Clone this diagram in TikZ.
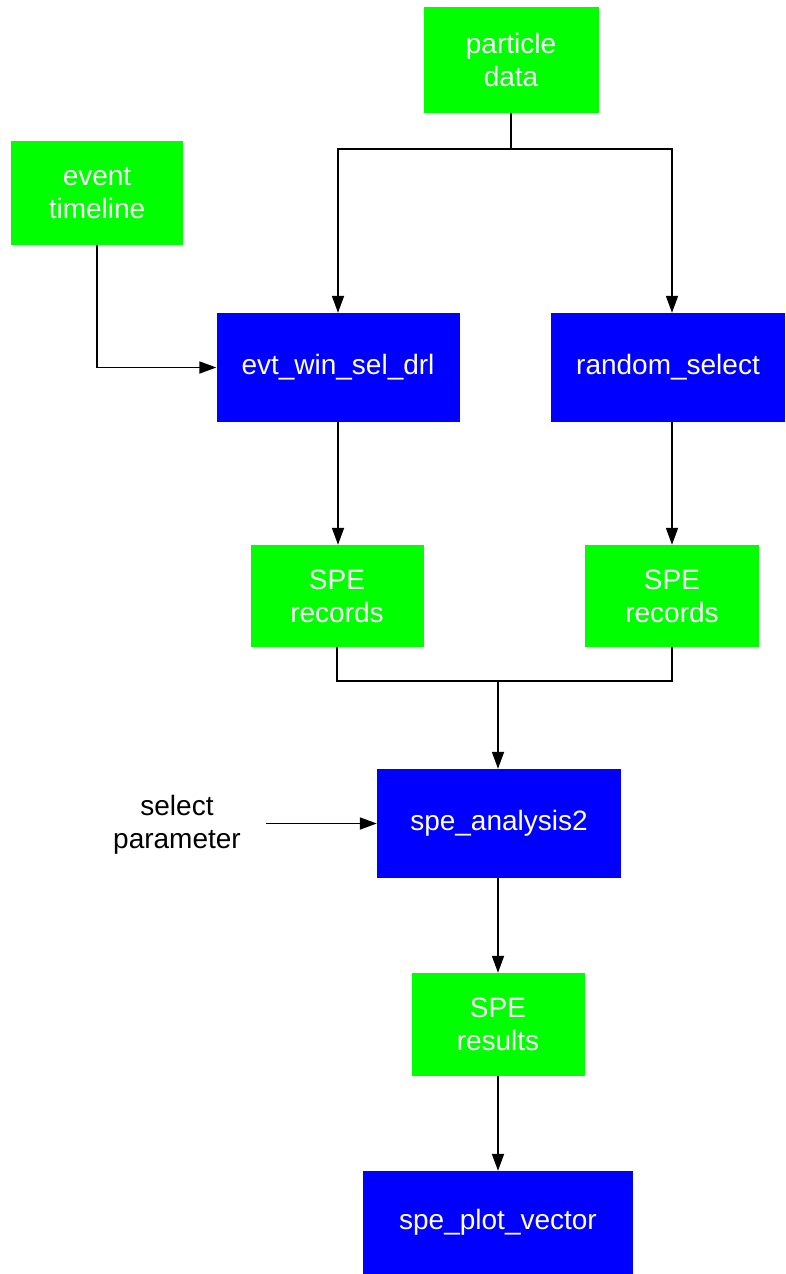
\documentclass[tikz,border=0pt]{standalone}
\usepackage{fontspec}
\setmainfont{Liberation Sans}
\usepackage{tikz}
\usetikzlibrary{arrows.meta, positioning}
\definecolor{datagreen}{RGB}{0,255,0}
\definecolor{progblue}{RGB}{0,0,255}
\tikzstyle{data} = [rectangle, minimum width=173pt, minimum height=104pt, inner sep=0pt, align=center, fill=datagreen, text=white]
\tikzstyle{prog} = [rectangle, minimum height=109pt, inner sep=0pt, align=center, fill=progblue, text=white]
\tikzstyle{arrow} = [line width=1.8pt, -{Triangle[length=17pt,width=12pt]}]
\tikzstyle{line} = [line width=1.8pt]

\begin{document}
\begin{tikzpicture}[x=1pt, y=-1pt,
  every node/.style={font=\fontsize{28}{33}\selectfont}]
\useasboundingbox (0,0) rectangle (785,1274);

% --------- inputs ----------
\node (PDATA) [data, minimum width=175pt, minimum height=106pt] at (511,60) {particle\\data};
\node (EVTL)  [data, minimum width=172pt] at (97,193) {event\\timeline};

% --------- selection ----------
\node (EWSD)  [prog, minimum width=243pt] at (338,367.5) {evt\_win\_sel\_drl};
\node (RSEL)  [prog, minimum width=234pt] at (668,367.5) {random\_select};
\node (SPEL)  [data, minimum height=102pt] at (337,596) {SPE\\records};
\node (SPER)  [data, minimum width=174pt, minimum height=102pt] at (672,596) {SPE\\records};

% --------- analysis ----------
\node (ANA)   [prog, minimum width=244pt] at (499,823.5) {spe\_analysis2};
\node (SELP)  [align=center, inner sep=0pt, text=black] at (177,825) {select\\parameter};
\node (RES)   [data, minimum height=103pt] at (498,1024.5) {SPE\\results};
\node (PLOT)  [prog, minimum width=270pt, minimum height=103pt] at (498,1222.5) {spe\_plot\_vector};

\coordinate (PJOIN) at (511,149);
\coordinate (MJOIN) at (498,681);

% Edges (selection)
\draw [line] (PDATA.south) -- (PJOIN);
\draw [arrow] (PJOIN) -| (EWSD.north);
\draw [arrow] (PJOIN) -| (SPER.north |- RSEL.north);
\draw [arrow] (EVTL.south) |- (EWSD.west);
\draw [arrow] (EWSD) -- (EWSD.south |- SPEL.north);
\draw [arrow] (SPER.north |- RSEL.south) -- (SPER.north);

% Edges (merge + analysis)
\draw [line width=1.2pt] (SPEL.south) |- (SPER.south |- MJOIN) -- (SPER.south);
\draw [arrow] (MJOIN) -- (ANA.north -| MJOIN);
\draw [arrow] ([xshift=25pt]SELP.east |- ANA.west) -- (ANA.west);
\draw [arrow] (ANA.south -| RES.north) -- (RES.north);
\draw [arrow] (RES) -- (PLOT);

\end{tikzpicture}
\end{document}
